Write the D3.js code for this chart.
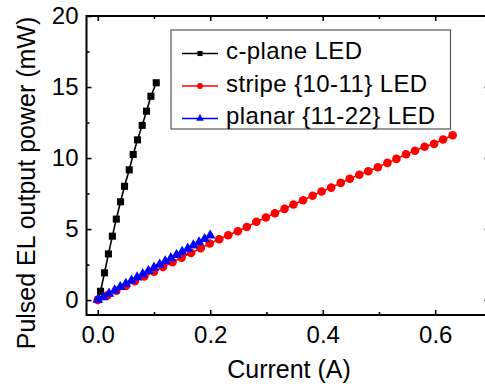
<!DOCTYPE html>
<html><head><meta charset="utf-8">
<script src="https://cdn.jsdelivr.net/npm/d3@7"></script>
<style>
html,body{margin:0;padding:0;background:#fff;}
svg{display:block;font-family:"Liberation Sans",Arial,sans-serif;}
</style></head>
<body><svg id="c" width="485" height="389"></svg>
<script>
// ---- data ----
const cplaneI = [0.001, 0.005, 0.012, 0.019, 0.026, 0.033, 0.0405, 0.0476, 0.056, 0.063, 0.0707, 0.079, 0.0867, 0.0945, 0.104];
const cplaneP = [0.04, 0.62, 1.92, 3.25, 4.5, 5.7, 6.92, 8.01, 9.17, 10.25, 11.28, 12.3, 13.3, 14.35, 15.3];

const stripeI = [0.000, 0.017, 0.033, 0.050, 0.066, 0.083, 0.100, 0.116, 0.133, 0.149, 0.166, 0.183, 0.199, 0.216, 0.232, 0.249, 0.265, 0.282, 0.299, 0.315, 0.332, 0.348, 0.365, 0.382, 0.398, 0.415, 0.432, 0.448, 0.465, 0.481, 0.498, 0.515, 0.531, 0.548, 0.564, 0.581, 0.598, 0.614, 0.631];
const stripeP = [0.0, 0.33, 0.66, 1.0, 1.33, 1.66, 2.0, 2.33, 2.66, 2.99, 3.32, 3.65, 3.98, 4.28, 4.56, 4.85, 5.15, 5.51, 5.81, 6.11, 6.42, 6.73, 7.03, 7.34, 7.64, 7.92, 8.25, 8.54, 8.82, 9.07, 9.35, 9.66, 9.94, 10.27, 10.51, 10.79, 11.0, 11.30, 11.61];

const planarI = [0.00, 0.01, 0.02, 0.03, 0.04, 0.05, 0.06, 0.07, 0.08, 0.09, 0.10, 0.11, 0.12, 0.13, 0.14, 0.15, 0.16, 0.17, 0.18, 0.19, 0.20];
const planarP = [0.02, 0.2, 0.45, 0.68, 0.92, 1.15, 1.38, 1.6, 1.83, 2.05, 2.28, 2.5, 2.73, 2.95, 3.17, 3.4, 3.62, 3.85, 4.07, 4.3, 4.55];

const seriesNames = ["c-plane LED", "stripe {10-11} LED", "planar {11-22} LED"];
const seriesColors = ["#000000", "#ff0000", "#0000ff"];
const seriesShapes = ["square", "circle", "triangle"];

const xMajor = [0, 0.2, 0.4, 0.6];
const xMinor = [0.1, 0.3, 0.5];
const yMajor = [0, 5, 10, 15, 20];
const yMinor = [2.5, 7.5, 12.5, 17.5];

const xTitle = "Current (A)";
const yTitle = "Pulsed EL output power (mW)";

// ---- layout ----
const svg = d3.select("#c");
const L = 86.5, R = 489.5, T = 16, B = 315;
const x = d3.scaleLinear().domain([-0.02, 0.6965]).range([L, R]);
const y = d3.scaleLinear().domain([-1.05, 20]).range([B, T]);

const FS = 24, TFS = 25;

function styleAxis(g){
  g.select(".domain").remove();
  g.selectAll(".tick line").attr("stroke","#000").attr("stroke-width",1.6);
  g.selectAll(".tick text").attr("font-size",FS).attr("fill","#000").attr("font-family","'Liberation Sans',Arial,sans-serif");
}

// bottom
svg.append("g").attr("transform",`translate(0,${B})`)
  .call(d3.axisBottom(x).tickValues(xMajor).tickSize(-5).tickPadding(11).tickFormat(d3.format(".1f"))).call(styleAxis);
svg.append("g").attr("transform",`translate(0,${B})`)
  .call(d3.axisBottom(x).tickValues(xMinor).tickSize(-3).tickFormat("")).call(styleAxis);
// top
svg.append("g").attr("transform",`translate(0,${T})`)
  .call(d3.axisTop(x).tickValues(xMajor).tickSize(-5).tickFormat("")).call(styleAxis);
svg.append("g").attr("transform",`translate(0,${T})`)
  .call(d3.axisTop(x).tickValues(xMinor).tickSize(-3).tickFormat("")).call(styleAxis);
// left
svg.append("g").attr("transform",`translate(${L},0)`)
  .call(d3.axisLeft(y).tickValues(yMajor).tickSize(-5).tickPadding(8).tickFormat(d3.format("d"))).call(styleAxis);
svg.append("g").attr("transform",`translate(${L},0)`)
  .call(d3.axisLeft(y).tickValues(yMinor).tickSize(-3).tickFormat("")).call(styleAxis);
// right
svg.append("g").attr("transform",`translate(${R},0)`)
  .call(d3.axisRight(y).tickValues(yMajor).tickSize(-5).tickFormat("")).call(styleAxis);
svg.append("g").attr("transform",`translate(${R},0)`)
  .call(d3.axisRight(y).tickValues(yMinor).tickSize(-3).tickFormat("")).call(styleAxis);

// frame
svg.append("rect").attr("x",L).attr("y",T).attr("width",R-L).attr("height",B-T)
  .attr("fill","none").attr("stroke","#000").attr("stroke-width",2);

// titles
svg.append("text").attr("x",289).attr("y",378).attr("text-anchor","middle")
  .attr("font-size",TFS).attr("fill","#000").text(xTitle);
svg.append("text").attr("transform","translate(35,183) rotate(-90)").attr("text-anchor","middle")
  .attr("font-size",TFS).attr("fill","#000").text(yTitle);

// series
const series = [
  {I: cplaneI, P: cplaneP},
  {I: stripeI, P: stripeP},
  {I: planarI, P: planarP}
];
const symType = {square: d3.symbolSquare, circle: d3.symbolCircle, triangle: d3.symbolTriangle};
const symSize = {square: 50, circle: 58, triangle: 48};
const line = d3.line().x(d=>x(d[0])).y(d=>y(d[1]));

series.forEach((s,i)=>{
  const pts = s.I.map((v,j)=>[v, s.P[j]]);
  const g = svg.append("g");
  g.append("path").datum(pts).attr("d",line).attr("fill","none")
    .attr("stroke",seriesColors[i]).attr("stroke-width",1.6);
  g.selectAll("path.m").data(pts).enter().append("path").attr("class","m")
    .attr("transform",d=>`translate(${x(d[0])},${y(d[1])})`)
    .attr("d",d3.symbol().type(symType[seriesShapes[i]]).size(symSize[seriesShapes[i]]))
    .attr("fill",seriesColors[i]);
});

// legend
const lg = svg.append("g");
lg.append("rect").attr("x",171).attr("y",30).attr("width",279.5).attr("height",99)
  .attr("fill","#fff").attr("stroke","#555").attr("stroke-width",1.2);
const rowY = [53.5, 86, 118.5];
seriesNames.forEach((n,i)=>{
  lg.append("line").attr("x1",182).attr("x2",218).attr("y1",rowY[i]).attr("y2",rowY[i])
    .attr("stroke",seriesColors[i]).attr("stroke-width",1.6);
  lg.append("path").attr("transform",`translate(200,${rowY[i]})`)
    .attr("d",d3.symbol().type(symType[seriesShapes[i]]).size(26)).attr("fill",seriesColors[i]);
  lg.append("text").attr("x",226).attr("y",rowY[i] + 5.5)
    .attr("font-size",FS).attr("letter-spacing","0.4px").attr("fill","#000").text(n);
});
</script></body></html>
